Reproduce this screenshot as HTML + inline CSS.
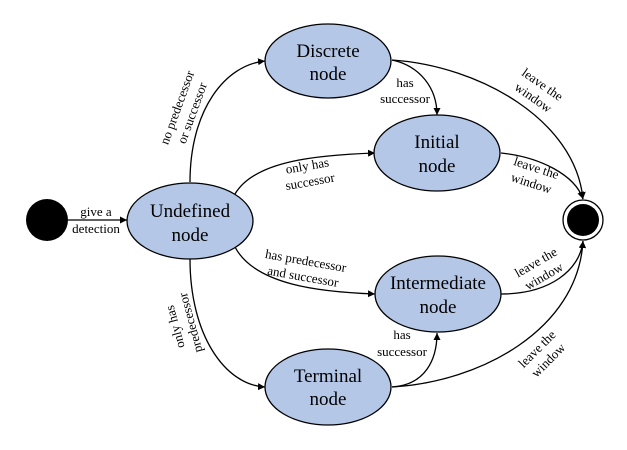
<!DOCTYPE html>
<html><head><style>html,body{margin:0;padding:0;background:#fff}svg{display:block}svg text{font-family:"Liberation Serif","DejaVu Serif","Times New Roman",serif !important}</style></head>
<body>
<svg width="627" height="450" viewBox="0 0 627 450" xmlns="http://www.w3.org/2000/svg">
<defs>
<marker id="a" viewBox="0 0 10 10" refX="10" refY="5" markerWidth="7" markerHeight="7" orient="auto" markerUnits="userSpaceOnUse"><path d="M0,0 L10,5 L0,10 z" fill="#000"/></marker>
</defs>
<g fill="none" stroke="#000" stroke-width="1.3" marker-end="url(#a)">
<path d="M68,220 L127,220"/>
<path d="M190,182 C190,110 225,65 265,61"/>
<path d="M235,194 C255,160 320,155 375,153"/>
<path d="M235,247 C255,285 320,292 375,294"/>
<path d="M190,259 C190,335 225,385 265,387"/>
<path d="M392,60 C420,66 437,88 437,115"/>
<path d="M392,60 C480,66 575,120 583,199"/>
<path d="M501,153 C540,157 575,175 583,199"/>
<path d="M501,294 C550,294 580,270 583,241"/>
<path d="M392,387 C425,385 437,360 437,333"/>
<path d="M392,387 C480,382 578,330 583,241"/>
</g>
<circle cx="47" cy="220" r="21" fill="#000"/>
<circle cx="583" cy="220" r="20" fill="#fff" stroke="#000" stroke-width="1.3"/>
<circle cx="583" cy="220" r="16" fill="#000"/>
<g fill="#b4c7e7" stroke="#000" stroke-width="1.3">
<ellipse cx="190" cy="221" rx="63" ry="38"/>
<ellipse cx="328" cy="61" rx="63" ry="37"/>
<ellipse cx="437" cy="153" rx="63" ry="38"/>
<ellipse cx="438" cy="294" rx="63" ry="38"/>
<ellipse cx="328" cy="387" rx="63" ry="38"/>
</g>
<g font-family="'Liberation Serif', serif" font-size="19" text-anchor="middle" fill="#000">
<text x="190" y="217">Undefined</text><text x="190" y="241">node</text>
<text x="328" y="57">Discrete</text><text x="328" y="80">node</text>
<text x="437" y="148">Initial</text><text x="437" y="172">node</text>
<text x="438" y="289">Intermediate</text><text x="438" y="313">node</text>
<text x="328" y="382">Terminal</text><text x="328" y="405">node</text>
</g>
<g font-family="'Liberation Serif', serif" font-size="13" text-anchor="middle" fill="#000">
<text x="96" y="216">give a</text><text x="96" y="233">detection</text>
<g transform="translate(184,110) rotate(-70)"><text x="0" y="-3">no predecessor</text><text x="0" y="13">or successor</text></g>
<g transform="translate(182,325) rotate(-105)"><text x="0" y="-3">only has</text><text x="0" y="13">predecessor</text></g>
<g transform="translate(308,170) rotate(-10)"><text x="0" y="0">only has</text><text x="0" y="16">successor</text></g>
<g transform="translate(305,265) rotate(10)"><text x="0" y="0">has predecessor</text><text x="0" y="16">and successor</text></g>
<text x="405" y="87">has</text><text x="405" y="103">successor</text>
<text x="402" y="339">has</text><text x="402" y="356">successor</text>
<g transform="translate(540,88) rotate(35)"><text x="0" y="0">leave the</text><text x="0" y="16">window</text></g>
<g transform="translate(535,172) rotate(18)"><text x="0" y="0">leave the</text><text x="0" y="16">window</text></g>
<g transform="translate(538,266) rotate(-30)"><text x="0" y="0">leave the</text><text x="0" y="16">window</text></g>
<g transform="translate(540,352) rotate(-45)"><text x="0" y="0">leave the</text><text x="0" y="16">window</text></g>
</g>
</svg>
</body></html>
